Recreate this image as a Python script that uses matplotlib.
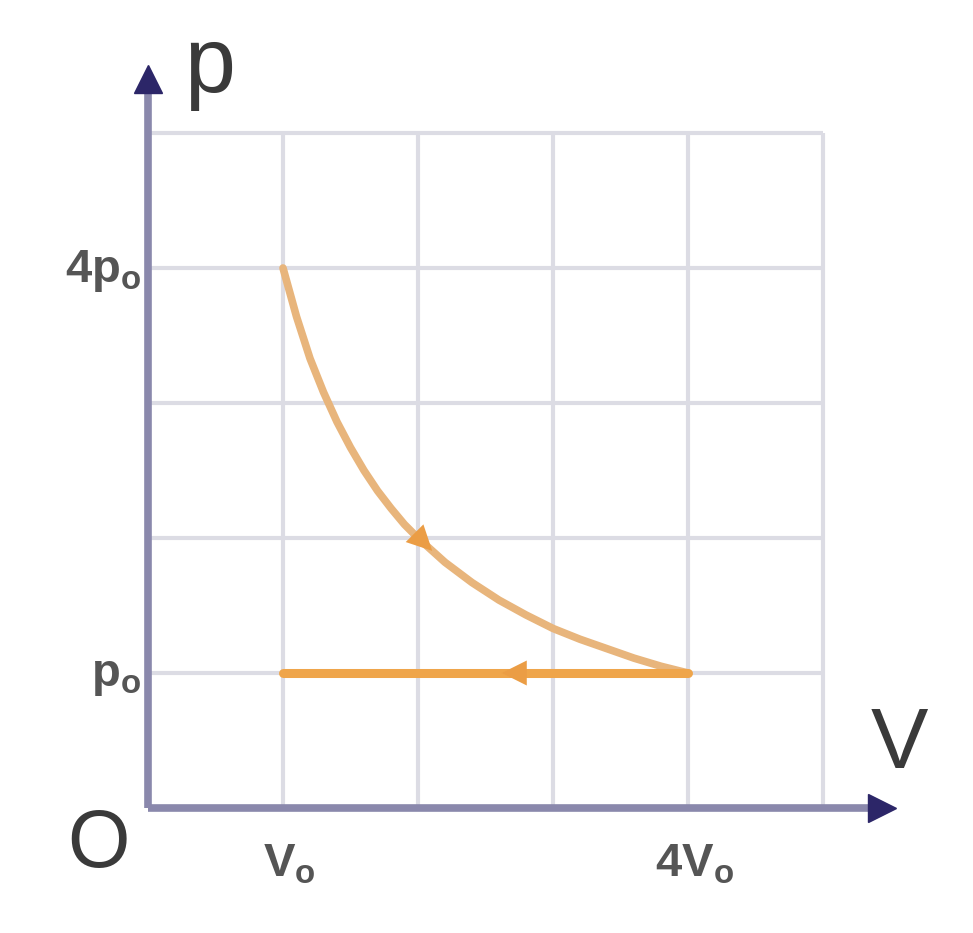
import numpy as np
from matplotlib import pyplot as plt

# p-V cycle: curve from (V0, 4p0) down to (4V0, p0), then back along p = p0
curve_v = [1.0, 1.1, 1.2, 1.3, 1.4, 1.5, 1.6, 1.7, 1.8, 1.9, 2.0,
           2.2, 2.4, 2.6, 2.8, 3.0, 3.2, 3.4, 3.6, 3.8, 4.0]
curve_p = [4.0, 3.64, 3.33, 3.08, 2.86, 2.67, 2.5, 2.35, 2.22, 2.1, 2.0,
           1.82, 1.67, 1.54, 1.43, 1.33, 1.25, 1.18, 1.11, 1.05, 1.0]
line_v = [4.0, 1.0]
line_p = [1.0, 1.0]

grid_ticks = [1, 2, 3, 4, 5]
x_labels = {1: 'V$_\\mathregular{o}$', 4: '4V$_\\mathregular{o}$'}
y_labels = {1: 'p$_\\mathregular{o}$', 4: '4p$_\\mathregular{o}$'}

plt.rcParams['font.family'] = ['Liberation Sans', 'DejaVu Sans']

fig = plt.figure(figsize=(9.73, 9.33), dpi=100)
ax = fig.add_axes([0, 0, 1, 1])
ax.set_xlim(-148 / 135, 825 / 135)
ax.set_ylim(-125 / 135, 808 / 135)
ax.axis('off')

grid_col = '#dcdce4'
for g in grid_ticks:
    ax.plot([g, g], [0, 5], color=grid_col, lw=3, zorder=1, solid_capstyle='butt')
    ax.plot([0, 5], [g, g], color=grid_col, lw=3, zorder=1, solid_capstyle='butt')

# axes
axis_col = '#8a88ac'
ax.plot([0, 0], [0, 5.38], color=axis_col, lw=5.5, zorder=3, solid_capstyle='butt')
ax.plot([0, 5.42], [0, 0], color=axis_col, lw=5.5, zorder=3, solid_capstyle='butt')
ax.plot([0], [5.4], marker='^', ms=20, color='#2c2668', zorder=4)
ax.plot([5.44], [0], marker='>', ms=20, color='#2c2668', zorder=4)

# process curves
ax.plot(curve_v, curve_p, color='#e8b57c', lw=5.5, zorder=5, solid_capstyle='round')
ax.plot(line_v, line_p, color='#efa54a', lw=6.5, zorder=5, solid_capstyle='round')

# direction arrows
arr = dict(arrowstyle='-|>', color='#eb9d45', lw=0, mutation_scale=45)
ax.annotate('', xy=(2.12, 1.89), xytext=(1.92, 2.09), arrowprops=arr, zorder=6)
ax.annotate('', xy=(2.6, 1.0), xytext=(2.85, 1.0), arrowprops=arr, zorder=6)

# labels
lab_col = '#3a3a3a'
tick_col = '#555555'
ax.text(0.27, 5.3, 'p', fontsize=66, color=lab_col, ha='left', va='baseline')
ax.text(5.35, 0.3, 'V', fontsize=62, color=lab_col, ha='left', va='baseline')
ax.text(-0.37, -0.28, 'O', fontsize=58, color=lab_col, ha='center', va='center')
for v, s in x_labels.items():
    ax.text(v + 0.05, -0.42, s, fontsize=34, color=tick_col, ha='center', va='center',
            fontweight='bold')
for p, s in y_labels.items():
    ax.text(-0.05, p - 0.02, s, fontsize=34, color=tick_col, ha='right', va='center',
            fontweight='bold')

fig.savefig('out.png', dpi=100)
